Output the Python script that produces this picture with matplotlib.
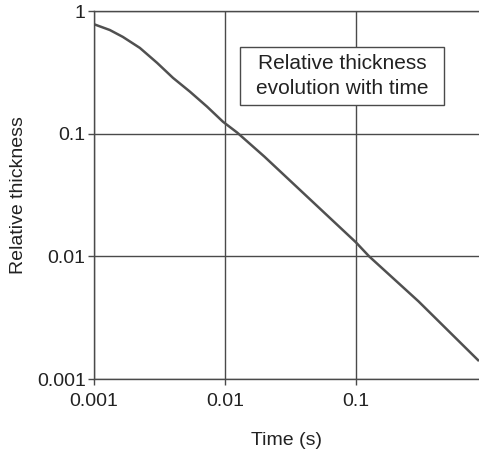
import matplotlib
matplotlib.use('Agg')
import matplotlib.pyplot as plt
from matplotlib.patches import Rectangle
from matplotlib.ticker import FixedLocator, FixedFormatter, NullLocator

plt.rcParams['font.family'] = ['Liberation Sans', 'DejaVu Sans']

# values (log-log)
time_s = [0.001, 0.00132, 0.00166, 0.00224, 0.00303, 0.00401, 0.0054,
          0.0073, 0.00966, 0.0124, 0.02, 0.05, 0.1, 0.126, 0.3, 0.87]
thickness = [0.78, 0.70, 0.615, 0.50, 0.378, 0.285, 0.22,
             0.166, 0.125, 0.102, 0.065, 0.026, 0.013, 0.01, 0.0043, 0.0014]

x_ticks = [0.001, 0.01, 0.1]
x_labels = ['0.001', '0.01', '0.1']
y_ticks = [0.001, 0.01, 0.1, 1]
y_labels = ['0.001', '0.01', '0.1', '1']

W, H = 479, 451
fig = plt.figure(figsize=(W / 100, H / 100), dpi=100)
ax = fig.add_axes([94 / W, (H - 379) / H, (W - 94) / W, 368 / H])

ax.set_xscale('log')
ax.set_yscale('log')
ax.set_xlim(0.001, 0.87)
ax.set_ylim(0.001, 1)

grid_c = '#4a4a4a'
ax.xaxis.set_major_locator(FixedLocator(x_ticks))
ax.xaxis.set_major_formatter(FixedFormatter(x_labels))
ax.yaxis.set_major_locator(FixedLocator(y_ticks))
ax.yaxis.set_major_formatter(FixedFormatter(y_labels))
ax.xaxis.set_minor_locator(NullLocator())
ax.yaxis.set_minor_locator(NullLocator())
ax.grid(True, which='major', color=grid_c, lw=1.0)
ax.tick_params(axis='both', direction='out', length=4, width=1.0,
               color=grid_c, labelsize=14, labelcolor='#222222')
ax.tick_params(axis='x', pad=6)
ax.tick_params(axis='y', pad=2)

ax.spines['right'].set_visible(False)
for side in ['left', 'bottom', 'top']:
    ax.spines[side].set_color(grid_c)
    ax.spines[side].set_linewidth(1.0)

ax.plot(time_s, thickness, color='#505050', lw=1.8, solid_capstyle='butt')

ax.set_xlabel('Time (s)', fontsize=14, color='#222222', labelpad=16)
ax.set_ylabel('Relative thickness', fontsize=14, color='#222222', labelpad=7)

# annotation box
fig.patches.append(Rectangle((240 / W, 1 - 105 / H), 204 / W, 58 / H,
                             transform=fig.transFigure, facecolor='white',
                             edgecolor=grid_c, linewidth=1.0, zorder=5))
fig.text(342 / W, 1 - 76 / H, 'Relative thickness\nevolution with time',
         ha='center', va='center', fontsize=15, color='#222222',
         linespacing=1.35, zorder=6)

fig.savefig('out.png', dpi=100)
